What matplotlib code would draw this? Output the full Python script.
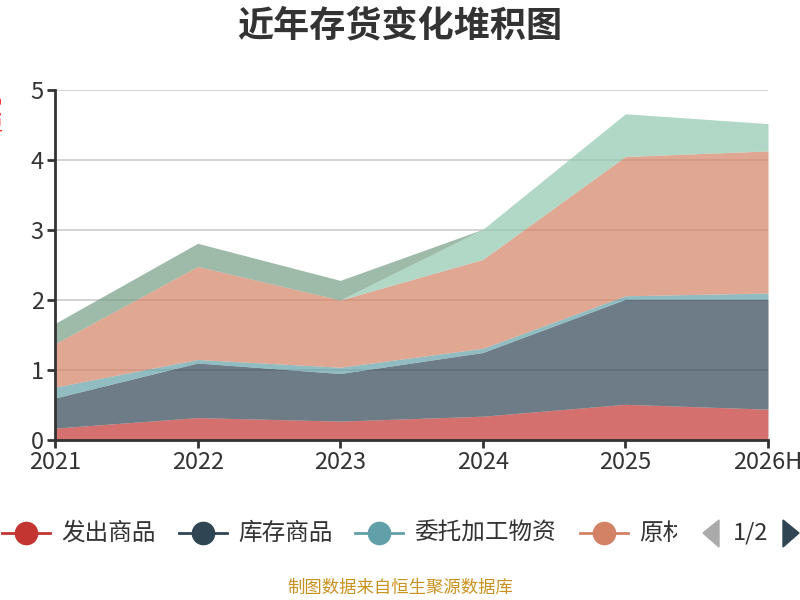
import matplotlib
matplotlib.use("Agg")
import matplotlib.pyplot as plt
from matplotlib.lines import Line2D
from matplotlib.patches import Rectangle
import numpy as np

plt.rcParams['font.family'] = ['Noto Sans CJK SC', 'DejaVu Sans']

years = ["2021", "2022", "2023", "2024", "2025", "2026H"]
series_names = ["发出商品", "库存商品", "委托加工物资", "原材料", "在产品", "周转材料"]
colors = ["#c23531", "#2f4554", "#61a0a8", "#d48265", "#91c7ae", "#749f83"]

fachu = [0.17, 0.32, 0.27, 0.34, 0.51, 0.44]
kucun = [0.43, 0.78, 0.68, 0.91, 1.50, 1.57]
weituo = [0.155, 0.05, 0.09, 0.06, 0.05, 0.09]
yuancailiao = [0.62, 1.33, 0.96, 1.27, 1.99, 2.03]
zaichanpin = [0.0, 0.0, 0.0, 0.43, 0.61, 0.39]
zhouzhuan = [0.29, 0.33, 0.28, 0.0, 0.0, 0.0]

legend_shown = ["发出商品", "库存商品", "委托加工物资", "原材料"]

W, H = 800, 600
fig = plt.figure(figsize=(8, 6), dpi=100)
ax = fig.add_axes([55 / W, 1 - 440 / H, (768 - 55) / W, 350 / H])

x = np.arange(len(years))
base = np.zeros(len(years))
for vals, c in zip([fachu, kucun, weituo, yuancailiao, zaichanpin, zhouzhuan], colors):
    top = base + np.array(vals)
    ax.fill_between(x, base, top, color=c, alpha=0.7, lw=0, zorder=2)
    base = top

ax.set_xlim(0, len(years) - 1)
ax.set_ylim(0, 5)
ax.set_yticks(range(6))
ax.set_xticks(x)
ax.set_xticklabels(years)
for yv in range(1, 6):
    ax.axhline(yv, color="#cccccc", lw=1.2, zorder=1)

for s in ["top", "right"]:
    ax.spines[s].set_visible(False)
for s in ["left", "bottom"]:
    ax.spines[s].set_color("#333333")
    ax.spines[s].set_linewidth(2)
    ax.spines[s].set_zorder(5)
ax.tick_params(axis="both", colors="#333333", labelcolor="#333333", labelsize=17,
               length=6, width=2, direction="out", pad=2)

# title
fig.text(400 / W, 1 - 26 / H, "近年存货变化堆积图", ha="center", va="center",
         fontsize=26, fontweight="bold", color="#333333")

# y axis name, mostly cut off at the left edge
fig.text(-5 / W, 1 - 115 / H, "亿元", rotation=90, ha="center", va="center",
         fontsize=14, color="#ff3030")

# legend (page 1 of 2)
ly = 1 - 533 / H
item_x = [2, 179, 355, 580]
clip = Rectangle((0, 0), 677 / W, 1, transform=fig.transFigure, visible=False)
fig.add_artist(clip)
for name, c, lx in zip(legend_shown, colors, item_x):
    fig.add_artist(Line2D([lx / W, (lx + 48) / W], [ly, ly], color=c, lw=2,
                          transform=fig.transFigure))
    fig.add_artist(Line2D([(lx + 24) / W], [ly], color=c, marker="o", ms=16,
                          transform=fig.transFigure))
    t = fig.text((lx + 59) / W, ly, name, ha="left", va="center", fontsize=17,
                 color="#333333")
    t.set_clip_path(clip)
    t.set_clip_on(True)

fig.add_artist(plt.Polygon([[719 / W, 1 - 520 / H], [719 / W, 1 - 547 / H], [703 / W, ly]],
                           closed=True, color="#aaaaaa", transform=fig.transFigure))
fig.text(751 / W, ly, "1/2", ha="center", va="center", fontsize=17, color="#333333")
fig.add_artist(plt.Polygon([[783 / W, 1 - 520 / H], [783 / W, 1 - 547 / H], [799 / W, ly]],
                           closed=True, color="#2f4554", transform=fig.transFigure))

# footer
fig.text(400 / W, 1 - 588 / H, "制图数据来自恒生聚源数据库", ha="center", va="center",
         fontsize=12.5, color="#c9921e")

fig.savefig("out.png", dpi=100)
